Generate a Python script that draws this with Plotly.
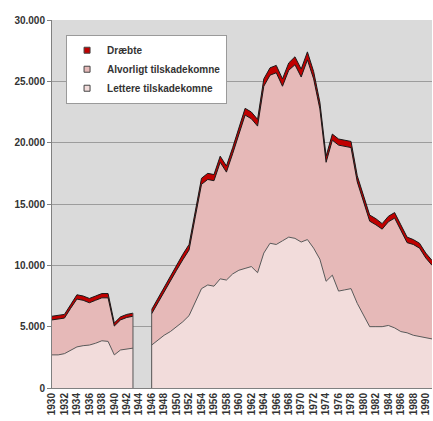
import plotly.graph_objects as go

# ---- data ----
years_a = list(range(1930, 1944))
lettere_a = [2700, 2700, 2800, 3100, 3350, 3450, 3500, 3650, 3850, 3800, 2700, 3100, 3200, 3250]
alvorligt_a = [2850, 2900, 2900, 3400, 3900, 3700, 3450, 3500, 3500, 3550, 2350, 2450, 2550, 2600]
draebte_a = [300, 300, 300, 300, 350, 350, 350, 350, 350, 350, 250, 250, 250, 250]

years_b = list(range(1946, 1992))
lettere_b = [3500, 3900, 4300, 4600, 5000, 5400, 5900, 7000, 8100, 8400,
             8300, 8900, 8800, 9300, 9600, 9750, 9900, 9400, 11000, 11800,
             11700, 12000, 12300, 12200, 11900, 12100, 11400, 10500, 8700, 9200,
             7900, 8000, 8100, 6900, 6000, 5000, 5000, 5000, 5100, 4900,
             4600, 4500, 4300, 4200, 4100, 4000]
alvorligt_b = [2550, 3050, 3600, 4100, 4600, 5050, 5350, 6950, 8500, 8600,
               8600, 9500, 8800, 9800, 11050, 12500, 12050, 11950, 13600, 13700,
               14000, 12600, 13600, 14150, 13450, 14650, 13800, 12250, 9700, 11000,
               11900, 11700, 11500, 9900, 9100, 8600, 8300, 7950, 8450, 8950,
               8250, 7350, 7400, 7200, 6500, 6000]
draebte_b = [350, 350, 400, 400, 400, 450, 450, 450, 500, 500,
             500, 500, 500, 500, 550, 550, 550, 550, 600, 600,
             600, 600, 600, 650, 650, 650, 600, 550, 500, 500,
             500, 500, 500, 500, 500, 500, 500, 450, 450, 450,
             450, 450, 400, 400, 400, 400]

tick_years = list(range(1930, 1991, 2))
tick_labels = [str(y) for y in tick_years]
y_ticks = [0, 5000, 10000, 15000, 20000, 25000, 30000]
y_labels = ["0", "5.000", "10.000", "15.000", "20.000", "25.000", "30.000"]

series_names = ["Lettere tilskadekomne", "Alvorligt tilskadekomne", "Dræbte"]
fill_colors = ["#f2dcdb", "#e6b9b8", "#c00000"]
line_colors = ["#5a5a5a", "#1a1a1a", "#1a1a1a"]
ranks = [3, 2, 1]

FONT = dict(family="Arial, Liberation Sans, sans-serif", size=10, color="#333333", weight="bold")

fig = go.Figure()

segments = [
    ("a", years_a, [lettere_a, alvorligt_a, draebte_a]),
    ("b", years_b, [lettere_b, alvorligt_b, draebte_b]),
]
for grp, yrs, vals in segments:
    for name, v, fc, lc in zip(series_names, vals, fill_colors, line_colors):
        fig.add_trace(go.Scatter(
            x=yrs, y=v, name=name, stackgroup=grp, mode="lines",
            fillcolor=fc, line=dict(color=lc, width=1),
            showlegend=False, legendgroup=name,
        ))

# vertical outline at the edges of the gap
tot_a_end = lettere_a[-1] + alvorligt_a[-1] + draebte_a[-1]
tot_b_start = lettere_b[0] + alvorligt_b[0] + draebte_b[0]
for xv, tv in [(years_a[-1], tot_a_end), (years_b[0], tot_b_start)]:
    fig.add_trace(go.Scatter(x=[xv, xv], y=[0, tv], mode="lines",
                             line=dict(color="#555555", width=1),
                             showlegend=False, hoverinfo="skip"))

# legend entries with small square swatches
for name, fc, rk in zip(series_names, fill_colors, ranks):
    fig.add_trace(go.Scatter(
        x=[None], y=[None], mode="markers", name=name, legendgroup=name,
        marker=dict(symbol="square", size=6, color=fc, line=dict(color="#444444", width=1)),
        showlegend=True, legendrank=rk,
    ))

fig.update_layout(
    width=433, height=421,
    margin=dict(l=52, r=1, t=20, b=33),
    paper_bgcolor="white",
    plot_bgcolor="#dadada",
    font=FONT,
    showlegend=True,
    legend=dict(
        x=0.037, y=0.96, xanchor="left", yanchor="top",
        bgcolor="white", bordercolor="#9a9a9a", borderwidth=1,
        traceorder="normal", font=FONT, itemwidth=30,
        tracegroupgap=0,
    ),
    xaxis=dict(
        range=[1930, 1991], tickmode="array", tickvals=tick_years, ticktext=tick_labels,
        tickangle=-90, showgrid=False, zeroline=False,
        showline=True, linecolor="#808080", linewidth=1,
        ticks="", tickfont=FONT, automargin=False,
    ),
    yaxis=dict(
        range=[0, 30000], tickmode="array", tickvals=y_ticks, ticktext=y_labels,
        showgrid=True, gridcolor="#9c9c9c", gridwidth=1, zeroline=False,
        showline=True, linecolor="#808080", linewidth=1,
        ticks="outside", ticklen=4, tickcolor="#808080", tickfont=FONT,
        automargin=False,
    ),
)

fig.write_html(
    "out.html",
    config={"displayModeBar": False},
    post_script="document.body.style.margin='0';document.body.style.overflow='hidden';",
)
